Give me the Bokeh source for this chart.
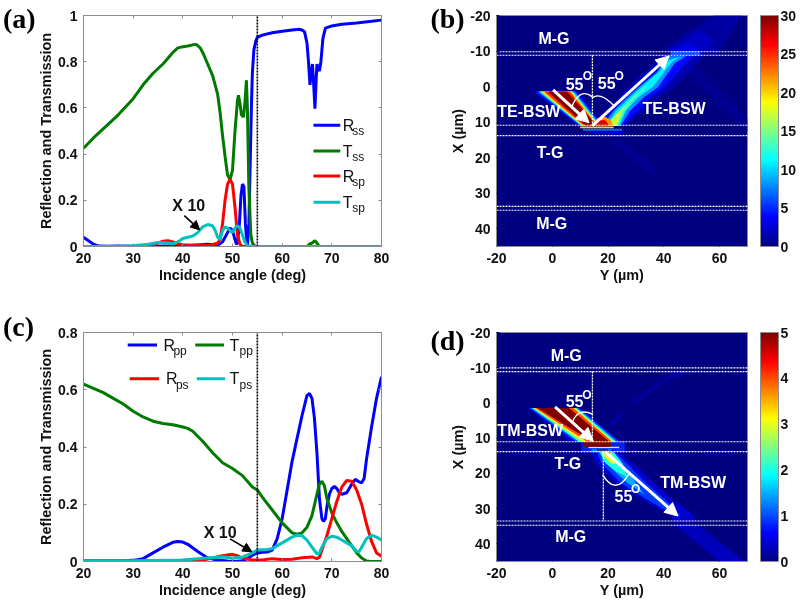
from bokeh.plotting import figure
from bokeh.layouts import column, row
from bokeh.models import (Arrow, NormalHead, ColorBar, FixedTicker, LinearAxis,
                          LinearColorMapper, ColumnDataSource)
from bokeh.core.properties import value
from bokeh.transform import transform
from bokeh.embed import file_html
from bokeh.resources import INLINE
import numpy as np

# ---------- panel (a) ----------
rss_x = [20,21,22,23,25,27,30,35,38,40,45,46,47,48,48.5,49,49.5,50,50.5,50.8,51,51.4,51.7,52,52.3,52.6,52.9,53,53.3,53.6,53.8,54,54.3,54.7,55,56,58,60,62,63.5,64,64.5,65,65.3,65.6,65.9,66.1,66.3,66.6,66.8,67,67.2,67.5,67.8,68.2,68.7,70,72,75,78,80]
rss_y = [.04,.025,.01,.002,.001,.002,.001,.001,.003,.002,.01,.008,.005,.02,.04,.06,.08,.07,.03,.01,.015,.1,.22,.27,.26,.1,.01,.002,.1,.4,.6,.75,.85,.89,.905,.915,.925,.932,.937,.94,.937,.93,.88,.8,.7,.76,.79,.72,.597,.7,.79,.77,.76,.8,.9,.945,.955,.962,.968,.975,.98]
tss_x = [20,22,25,27,30,32,34,36,38,39,40,41,42,42.7,43.5,44,45,46,47,47.5,48,48.5,49,49.5,50,50.5,51,51.2,51.5,51.8,52.2,52.5,52.8,53,53.3,53.7,54,54.5,55,65,65.5,66,66.6,67,67.5,80]
tss_y = [.425,.47,.53,.57,.64,.70,.75,.79,.84,.86,.865,.868,.873,.875,.86,.84,.79,.74,.66,.58,.48,.39,.31,.29,.33,.5,.63,.655,.62,.57,.56,.62,.72,.6,.25,.05,.015,.002,0,0,.01,.015,.025,.015,0,0]
rsp_x = [20,32,34,35,36,37,38,39,40,42,44,45,46,47,47.5,48,48.5,49,49.5,50,50.5,51,51.5,52,80]
rsp_y = [0,0,.005,.015,.023,.025,.02,.012,.008,.005,.005,.003,.008,.015,.03,.1,.2,.27,.29,.27,.17,.05,.01,0,0]
tsp_x = [20,28,30,33,35,37,38,39,40,41,42,43,44,45,46,46.5,47,47.5,48,48.5,49,49.5,50,50.5,51,51.5,52,52.5,53,54,80]
tsp_y = [0,.001,.003,.01,.017,.015,.012,.02,.035,.04,.045,.06,.085,.095,.09,.07,.04,.03,.07,.085,.08,.07,.06,.08,.09,.08,.05,.02,.003,0,0]

# ---------- panel (c) ----------
rpp_x = [20,28,30,32,34,36,38,39,40,41,43,45,47,49,51,52,53,54,55,56,57,58,59,60,61,62,63,64,65,65.5,66,66.5,67,67.5,68,68.3,68.7,69,69.5,70,70.5,71,71.5,72,73,74,74.7,75.3,76,76.5,77,78,79,80]
rpp_y = [.003,.003,.004,.01,.03,.05,.067,.07,.068,.06,.035,.012,.005,.002,.001,.003,.01,.022,.03,.032,.033,.04,.08,.15,.25,.35,.43,.51,.58,.587,.57,.5,.38,.22,.15,.14,.15,.19,.235,.255,.262,.255,.24,.235,.24,.27,.287,.28,.275,.29,.36,.47,.57,.645]
tpp_x = [20,22,24,26,28,30,32,34,36,38,40,41,42,44,46,48,50,52,54,55,56,58,60,62,63,64,65,66,67,67.5,68,68.5,69,70,71,72,73,74,75,76,77,78,80]
tpp_y = [.62,.605,.59,.57,.55,.525,.505,.49,.482,.478,.47,.465,.455,.42,.38,.345,.325,.3,.26,.25,.225,.18,.135,.10,.095,.10,.12,.16,.235,.27,.28,.265,.22,.17,.135,.105,.08,.055,.03,.012,.002,0,0]
rps_x = [20,40,42,44,46,48,50,51,52,54,56,58,60,62,64,66,67,67.5,68,69,70,71,72,73,74,75,76,77,78,79,80]
rps_y = [0,0,.002,.005,.012,.02,.025,.02,.012,.005,.005,.01,.007,.008,.013,.016,.01,.015,.04,.09,.15,.21,.26,.283,.28,.25,.2,.13,.07,.03,.018]
tps_x = [20,30,40,43,46,48,50,52,54,55,57,58,60,62,63,64,65,66,67,67.5,68,69,70,71,72,73,74,75,75.5,76,77,78,79,80]
tps_y = [.003,.003,.005,.01,.014,.016,.012,.015,.03,.04,.042,.045,.065,.085,.092,.09,.075,.05,.027,.03,.05,.08,.088,.085,.075,.065,.055,.035,.035,.05,.08,.092,.085,.075]

# ---------- panel (b) field: contour levels ----------
b_inc_levels = [1, 3, 5, 10, 15, 20, 25, 30]
b_inc_top_l  = [-7.4, -6.6, -6, -5, -4.4, -3.8, -3, -1.6]
b_inc_top_r  = [10.5, 9, 8.5, 7.8, 7.2, 6.8, 6.3, 5.2]
b_inc_bot_l  = [9, 9.4, 9.8, 10.3, 10.7, 11, 11.4, 12]
b_inc_bot_r  = [19, 18.5, 18, 17.5, 17, 16.6, 16.2, 16]
b_other_levels = [0.5, 0.6, 1, 2, 3, 6, 1.5, 4, 8, 11, 14, 17, 22, 27, 20, 7, 3]
b_other_y = [[48,70,70,52],[20,38,36,24],
             [39,50,58,68,60],[41,47,53,58,56],[44,47,51,53],[42.5,53,53,42.5],
             [15,19.5,24,27,36.5,39,55,52,44,38.5,33,26],
             [16,21,25.5,29,38,40,51,48,40.5,35.5,31,25],
             [18,22,27,31,37.5,41,48,44,38,33,28,24.5],
             [19,23,28,32,38,42,46,43,39,36,31,26.5,24],
             [20,24,29,33,34,30,26,23.5],
             [20,22,24,26,25,23],
             [15,16,19,21,22],
             [15.5,17,19,20.5],
             [10,22,22,10],[11,25,25,11],[14,26,26,14]]
b_other_x = [[-4,13,9,-6],[15,26,22,15],
             [-10,-16,-20,-20,-10],[-10,-13,-16,-13,-10],[-10,-12,-12,-10],[-10,-10,-8.8,-8.8],
             [11,6.7,2.9,.1,-6.6,-8.8,-8.8,-6.6,.1,2.9,6.7,11],
             [11,6.7,2.9,.1,-6.6,-8.7,-8.7,-6.6,.1,2.9,6.7,11],
             [11,6.7,2.9,.1,-4,-8.5,-8.5,-6.6,.1,2.9,6.7,11],
             [11,6.7,2.9,.1,-4,-7.5,-8.4,-7,-3,.1,2.9,6.7,11],
             [11,7,2.9,.3,.1,2.9,6.7,11],
             [11,8.5,7,5.5,7,11],
             [11,9,8.5,9.5,11],
             [11,9.5,9.5,11],
             [11.2,11.2,11.7,11.7],[11.9,11.9,12.4,12.4],[12.7,12.7,13.1,13.1]]

# ---------- panel (d) field ----------
d_inc_levels = [0.5, 1, 2, 3, 4, 5]
d_inc_top_l  = [-8.8, -8.2, -7.4, -6.8, -6.2, -5.4]
d_inc_top_r  = [10, 9.5, 8.8, 8.2, 7.5, 6]
d_inc_bot_l  = [6.6, 8.4, 9.5, 10.7, 12.5, 14.4]
d_inc_bot_r  = [24.5, 24, 23, 22, 21.5, 20.5]
d_other_levels = [0.2, 0.3, 0.4, 0.9, 1.5, 2, 3, 4, 5, 3, 1, 5, 1.2, 0.8]
d_other_y = [[20,25,40,50,44,30,22],
             [44,52,69,60],
             [13.8,15.5,22.7,32.3,42.5,43.7,52,49.6,43,36.5,28.7,23.3],
             [16,17.5,24.5,34,44,46,40.5,33.5,26.5,22.5],
             [17,19,27,33,30,25,22],
             [17,19,23,27,25,22],
             [17.5,20,22,23,21],
             [18,20,21],
             [11,21,21,11],[13,24,24,13],[13,25,25,13],[16,20,20,16],[14,21,21,14],[10.5,26,26,10.5]]
d_other_x = [[6,3,-6,-9,-9,-1,6.5],
             [34.6,34.6,45,45],
             [14,17,22.7,27.4,32.1,33.5,33.5,31.1,27.4,22.7,17,13.8],
             [14,17,22.7,27.4,32,32,27.4,22.7,17,14],
             [14,17,22.7,26,22.7,17,14],
             [14,17,19.5,21,17,14],
             [14,16.5,17.5,16.5,14],
             [14,15,14],
             [11,11,12.4,12.4],[12.4,12.4,12.8,12.8],[12.8,12.8,13,13],[13.1,13.1,13.5,13.5],[13,13,14,14],[11,11,14,14]]

layer_x_b = [-9.8, -8.8, 10.9, 13.8, 33.7, 34.8]
layer_x_d = [-9.95, -8.9, 11, 13.8, 33.5, 34.7]

JET = []
for t in np.linspace(0, 1, 256):
    c = [np.clip(1.5 - abs(4*t - k), 0, 1) for k in (3, 2, 1)]
    JET.append("#%02x%02x%02x" % tuple(int(round(v*255)) for v in c))

BLUE, GREEN, RED, CYAN = "#0000ff", "#007a00", "#ff0000", "#00c0c0"
SANS = value("Liberation Sans")
GREY = "#8c8c8c"


def style(p, xt, yt, xlab, ylab, ticks_color=GREY):
    p.outline_line_color = GREY
    p.outline_line_width = 1
    p.grid.visible = False
    p.xaxis.ticker = FixedTicker(ticks=xt)
    p.yaxis.ticker = FixedTicker(ticks=yt)
    p.xaxis.axis_label = xlab
    p.yaxis.axis_label = ylab
    for ax in (p.xaxis[0], p.yaxis[0]):
        ax.axis_line_color = GREY
        ax.major_tick_line_color = ticks_color
        ax.major_tick_in = 3
        ax.major_tick_out = 0
        ax.minor_tick_line_color = None
        ax.major_label_text_font = "Liberation Sans"
        ax.major_label_text_font_style = "bold"
        ax.major_label_text_font_size = "14px"
        ax.major_label_text_color = "#111111"
        ax.major_label_standoff = 6
        ax.axis_label_text_font = "Liberation Sans"
        ax.axis_label_text_font_style = "bold"
        ax.axis_label_text_font_size = "14.4px"
        ax.axis_label_text_color = "#111111"
        ax.axis_label_standoff = 1
    p.background_fill_color = "white"
    p.border_fill_color = "white"


def mirror(p, xt, yt):
    top = LinearAxis(ticker=FixedTicker(ticks=xt), major_label_overrides={t: "" for t in xt},
                     major_tick_in=3, major_tick_out=0, minor_tick_line_color=None,
                     axis_line_color=GREY, major_tick_line_color=GREY, major_label_standoff=0)
    right = LinearAxis(ticker=FixedTicker(ticks=yt), major_label_overrides={t: "" for t in yt},
                       major_tick_in=3, major_tick_out=0, minor_tick_line_color=None,
                       axis_line_color=GREY, major_tick_line_color=GREY, major_label_standoff=0)
    p.add_layout(top, "above")
    p.add_layout(right, "right")


def words(p, xs, ys, txt, size, color="#111111", style_="bold", align="center"):
    p.text(xs, ys, text=txt, text_font=SANS, text_font_size=value(size),
           text_font_style=style_, text_color=color, text_align=align, text_baseline="middle")


def letter(p, x, y, t):
    # unclipped: drawn above the frame's clip level
    p.text([x], [y], text=[t], text_font=value("Liberation Serif"), text_font_style="bold",
           text_font_size=value("28px"), text_color="black", text_baseline="middle",
           text_align="left", level="overlay")


def line_panel(top, bottom, ymax, yt):
    p = figure(width=400, height=300, x_range=(20, 80), y_range=(0, ymax), output_backend="svg",
               toolbar_location=None, min_border_left=83, min_border_right=19,
               min_border_top=top, min_border_bottom=bottom)
    xt = [20, 30, 40, 50, 60, 70, 80]
    style(p, xt, yt, "Incidence angle (deg)", "Reflection and Transmission")
    mirror(p, xt, yt)
    return p


# ----- (a)
pa_ticks = [0, .2, .4, .6, .8, 1]
pa = line_panel(15, 54, 1, pa_ticks)
pa.yaxis[0].major_label_overrides = {0: "0", 1: "1", .2: "0.2", .4: "0.4", .6: "0.6", .8: "0.8"}
for xs, ys, c in ((rss_x, rss_y, BLUE), (tss_x, tss_y, GREEN), (rsp_x, rsp_y, RED), (tsp_x, tsp_y, CYAN)):
    pa.line(xs, ys, line_color=c, line_width=3)
pa.line([55, 55], [0, 1], line_color="black", line_width=1.6, line_dash="2 1")
pa.add_layout(Arrow(end=NormalHead(size=9, fill_color="black", line_color="black"),
                    x_start=40.3, y_start=.134, x_end=43.4, y_end=.072,
                    line_color="black", line_width=1.6))
words(pa, [41.2], [.178], ["X 10"], "16px")
for yv, c, a, b in ((.525, BLUE, "R", "ss"), (.413, GREEN, "T", "ss"), (.305, RED, "R", "sp"), (.192, CYAN, "T", "sp")):
    pa.line([66.3, 71.7], [yv, yv], line_color=c, line_width=3)
    words(pa, [72.2], [yv], [a], "16px", style_="normal", align="left")
    words(pa, [74.1], [yv - .026], [b], "12px", style_="normal", align="left")
letter(pa, 3.8, .985, "(a)")

# ----- (c)
pc_ticks = [0, .2, .4, .6, .8]
pc = line_panel(32, 37, .8, pc_ticks)
pc.yaxis[0].major_label_overrides = {0: "0", .2: "0.2", .4: "0.4", .6: "0.6", .8: "0.8"}
for xs, ys, c in ((rpp_x, rpp_y, BLUE), (tpp_x, tpp_y, GREEN), (rps_x, rps_y, RED), (tps_x, tps_y, CYAN)):
    pc.line(xs, ys, line_color=c, line_width=3)
pc.line([55, 55], [0, .8], line_color="black", line_width=1.6, line_dash="2 1")
pc.add_layout(Arrow(end=NormalHead(size=9, fill_color="black", line_color="black"),
                    x_start=49.5, y_start=.079, x_end=53.9, y_end=.034,
                    line_color="black", line_width=1.6))
words(pc, [47.5], [.103], ["X 10"], "16px")
for x0, x1, tx, yv, c, a, b in ((28.9, 34.8, 36.1, .756, BLUE, "R", "pp"), (42.5, 48.3, 49.4, .756, GREEN, "T", "pp"),
                                (29.3, 35.2, 36.6, .638, RED, "R", "ps"), (42.8, 48.5, 49.4, .638, CYAN, "T", "ps")):
    pc.line([x0, x1], [yv, yv], line_color=c, line_width=3)
    words(pc, [tx], [yv], [a], "16px", style_="normal", align="left")
    words(pc, [tx + 2], [yv - .02], [b], "12px", style_="normal", align="left")
letter(pc, 3.8, .82, "(c)")


def field(top, bottom, high, cticks, inc, others, layers):
    p = figure(width=400, height=300, x_range=(-20, 70), y_range=(45, -20), output_backend="svg",
               toolbar_location=None, min_border_left=96, min_border_right=53,
               min_border_top=top, min_border_bottom=bottom)
    xt, yt = [-20, 0, 20, 40, 60], [-20, -10, 0, 10, 20, 30, 40]
    style(p, xt, yt, "Y (\u00b5m)", "X (\u00b5m)", ticks_color="#00008f")
    p.xaxis[0].major_label_overrides = {t: str(t) for t in xt}
    p.yaxis[0].major_label_overrides = {t: str(t) for t in yt}
    p.background_fill_color = JET[0]
    mapper = LinearColorMapper(palette=JET, low=0, high=high)
    polys = []
    for lv, tl, tr, bl, br in zip(*inc):
        polys.append((lv, [tl, tr, br, bl], [1.4, 1.4, 11, 11]))
    for lv, ys, xs in zip(*others):
        polys.append((lv, ys, xs))
    polys.sort(key=lambda q: q[0])
    src = ColumnDataSource(dict(v=[q[0] for q in polys], xs=[q[1] for q in polys], ys=[q[2] for q in polys]))
    p.patches("xs", "ys", source=src, fill_color=transform("v", mapper), line_color=None)
    for xv in layers:
        p.line([-20, 70], [xv, xv], line_color="white", line_width=1.1, line_dash="2 1")
    cb = ColorBar(color_mapper=mapper, width=18, padding=0, margin=0, location=(13, 0),
                  ticker=FixedTicker(ticks=cticks), major_label_text_font="Liberation Sans",
                  major_label_text_font_style="bold", major_label_text_font_size="14px",
                  major_label_text_color="#111111", major_tick_line_color=None,
                  label_standoff=2, bar_line_color=GREY, border_line_color=None, background_fill_alpha=0)
    p.add_layout(cb, "right")
    return p


def white_arrow(p, y0, x0, y1, x1):
    p.add_layout(Arrow(end=NormalHead(size=13, fill_color="white", line_color="white"),
                       x_start=y0, y_start=x0, x_end=y1, y_end=x1, line_color="white", line_width=3))


# ----- (b)
pb = field(15, 54, 30, [0, 5, 10, 15, 20, 25, 30],
           (b_inc_levels, b_inc_top_l, b_inc_top_r, b_inc_bot_l, b_inc_bot_r),
           (b_other_levels, b_other_y, b_other_x), layer_x_b)
pb.line([14.4, 14.4], [-8.8, 11], line_color="white", line_width=1.3, line_dash="2 1")
pb.quadratic(x0=[6.9, 14.4], y0=[5.9, 3.1], x1=[14.4, 22.4], y1=[2.9, 5.7], cx=[9.7, 17.6], cy=[0.1, 1.4],
             line_color="white", line_width=1.4)
white_arrow(pb, 0.3, 0.9, 13.2, 10.2)
white_arrow(pb, 14.4, 11, 41.9, -8.6)
words(pb, [8.0, 19.5, -8.4, 43.7, 0.6, -0.8, -0.2], [-0.8, -1.1, 7, 6.1, -13.5, 18.5, 38.4],
      ["55", "55", "TE-BSW", "TE-BSW", "M-G", "T-G", "M-G"], "16px", color="white")
words(pb, [12.6, 24.0], [-2.9, -3.1], ["O", "O"], "12px", color="white")
letter(pb, -43.7, -19.2, "(b)")

# ----- (d)
pd = field(32, 37, 5, [0, 1, 2, 3, 4, 5],
           (d_inc_levels, d_inc_top_l, d_inc_top_r, d_inc_bot_l, d_inc_bot_r),
           (d_other_levels, d_other_y, d_other_x), layer_x_d)
pd.line([14.4, 14.4], [-8.9, 11], line_color="white", line_width=1.3, line_dash="2 1")
pd.line([18.3, 18.3], [13.8, 33.5], line_color="white", line_width=1.3, line_dash="2 1")
pd.quadratic(x0=[7.2, 18.1], y0=[5.4, 20.4], x1=[14.4, 27.5], y1=[3.2, 20.1], cx=[9.4, 22.7], cy=[1.2, 26.5],
             line_color="white", line_width=1.4)
white_arrow(pd, 1.0, 1.1, 14.7, 10.8)
white_arrow(pd, 18.9, 13.8, 45.1, 32.1)
words(pd, [8.0, 25.5, -7.9, 50.5, 5.0, 5.6, 6.6], [-0.6, 26.5, 7.7, 22.7, -13.4, 17.3, 38.0],
      ["55", "55", "TM-BSW", "TM-BSW", "M-G", "T-G", "M-G"], "16px", color="white")
words(pd, [12.4, 29.9], [-2.4, 24.4], ["O", "O"], "12px", color="white")
letter(pd, -43.7, -17.7, "(d)")

page = column(row(pa, pb, spacing=0), row(pc, pd, spacing=0), spacing=0, styles={"filter": "blur(0.5px)"})
open("out.html", "w").write(file_html(page, INLINE))
